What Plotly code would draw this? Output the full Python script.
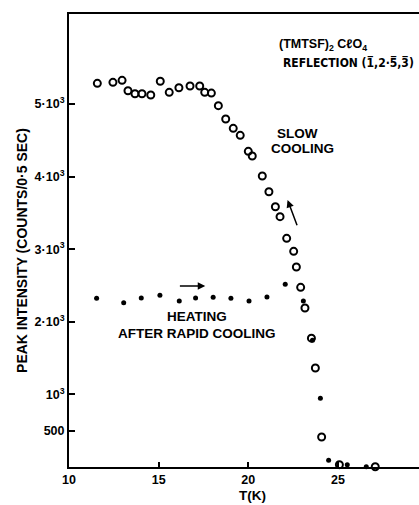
import plotly.graph_objects as go

# Slow cooling (open circles)
slow_T = [11.58, 12.45, 12.96, 13.29, 13.68, 14.07, 14.56, 15.09, 15.59, 16.13,
          16.75, 17.29, 17.57, 17.94, 18.33, 18.74, 19.16, 19.55, 20.00, 20.22,
          20.78, 21.15, 21.51, 21.77, 22.14, 22.53, 22.68, 22.92, 23.16, 23.52,
          23.74, 24.09, 25.08, 27.08]
slow_I = [5285, 5299, 5326, 5183, 5142, 5142, 5124, 5313, 5161, 5224,
          5248, 5248, 5161, 5151, 4977, 4793, 4665, 4569, 4348, 4284,
          4008, 3792, 3585, 3448, 3150, 2971, 2755, 2475, 2190, 1775,
          1364, 413, 32, 4]

# Heating after rapid cooling (filled dots)
heat_T = [11.54, 13.05, 14.03, 15.07, 16.15, 17.06, 18.04, 19.03, 20.04, 21.04,
          22.06, 23.07, 23.58, 24.02, 24.48, 25.52, 26.58]
heat_I = [2324, 2264, 2328, 2365, 2287, 2328, 2337, 2324, 2287, 2342,
          2517, 2287, 1745, 946, 92, 32, 4]

x_ticks = [10, 15, 20, 25]
y_ticks = [500, 1000, 2000, 3000, 4000, 5000]
y_tick_labels = ["500", "10<sup>3</sup>", "2·10<sup>3</sup>", "3·10<sup>3</sup>",
                 "4·10<sup>3</sup>", "5·10<sup>3</sup>"]

FONT = "Liberation Sans"

fig = go.Figure()
fig.add_trace(go.Scatter(
    x=slow_T, y=slow_I, mode="markers",
    marker=dict(symbol="circle-open", size=7, color="black", line=dict(width=2, color="black")),
    showlegend=False, cliponaxis=False))
fig.add_trace(go.Scatter(
    x=heat_T, y=heat_I, mode="markers",
    marker=dict(symbol="circle", size=5, color="black"),
    showlegend=False, cliponaxis=False))

ann_font = dict(family=FONT, size=13.5, color="black", weight="bold")
annotations = [
    dict(x=24.17, y=5813, xref="x", yref="y", text="(TMTSF)<sub>2</sub> CℓO<sub>4</sub>",
         showarrow=False, font=dict(family=FONT, size=12.5, color="black", weight="bold")),
    dict(x=25.56, y=5565, xref="x", yref="y", text="REFLECTION (1\u0305,2·5\u0305,3\u0305)",
         showarrow=False, font=dict(family="DejaVu Sans Condensed", size=12, color="black", weight="bold")),
    dict(x=22.72, y=4600, xref="x", yref="y", text="SLOW", showarrow=False, font=ann_font),
    dict(x=23.05, y=4394, xref="x", yref="y", text="COOLING", showarrow=False, font=ann_font),
    dict(x=17.14, y=2080, xref="x", yref="y", text="HEATING", showarrow=False, font=ann_font),
    dict(x=17.14, y=1845, xref="x", yref="y", text="AFTER RAPID COOLING", showarrow=False, font=ann_font),
    # arrows
    dict(x=17.6, y=2493, ax=16.1, ay=2493, xref="x", yref="y", axref="x", ayref="y",
         text="", showarrow=True, arrowhead=2, arrowsize=1, arrowwidth=1.5, arrowcolor="black"),
    dict(x=22.19, y=3678, ax=22.75, ay=3310, xref="x", yref="y", axref="x", ayref="y",
         text="", showarrow=True, arrowhead=2, arrowsize=1, arrowwidth=1.5, arrowcolor="black"),
    # axis titles
    dict(x=-47/350, y=0.477, xref="paper", yref="paper", text="PEAK INTENSITY (COUNTS/0·5 SEC)",
         textangle=-90, showarrow=False, font=dict(family=FONT, size=14, color="black", weight="bold"),
         xanchor="center", yanchor="middle"),
    dict(x=20.26, y=-0.064, xref="x", yref="paper", text="T(K)",
         showarrow=False, font=ann_font, xanchor="center", yanchor="middle"),
]

tick_font = dict(family=FONT, size=12.5, color="black", weight="bold")

fig.update_layout(
    width=419, height=505,
    margin=dict(l=69, r=0, t=14, b=38),
    paper_bgcolor="white", plot_bgcolor="white",
    font=dict(family=FONT, size=12, color="black"),
    annotations=annotations,
    xaxis=dict(range=[10, 29.52], tickvals=x_ticks, ticktext=[str(v) for v in x_ticks],
               showgrid=False, zeroline=False, showline=True, linecolor="black", linewidth=2,
               mirror=True, ticks="inside", ticklen=5, tickwidth=1.5, tickcolor="black",
               tickfont=tick_font),
    yaxis=dict(range=[0, 6240], tickvals=y_ticks, ticktext=y_tick_labels,
               showgrid=False, zeroline=False, showline=True, linecolor="black", linewidth=2,
               ticks="inside", ticklen=6, tickwidth=1.5, tickcolor="black",
               tickfont=tick_font),
)

fig.write_html("out.html")
